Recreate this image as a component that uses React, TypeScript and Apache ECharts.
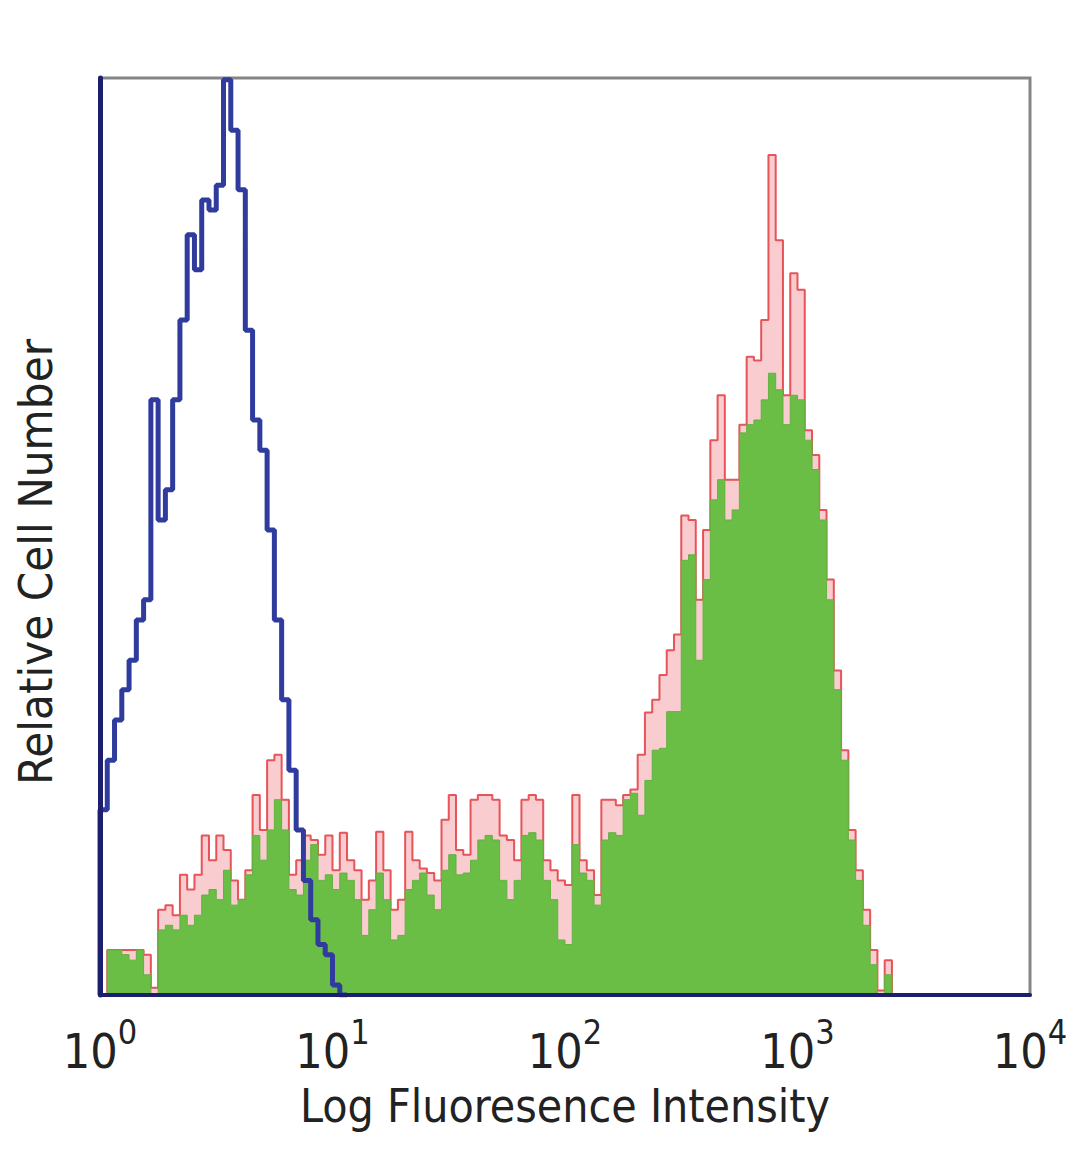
import React, { useEffect, useRef } from "react";
import * as echarts from "echarts";

// Histogram bins: 32 channels per decade, starting at 10^0
const BINS_PER_DECADE = 32;
const xTickLabels = ["10^0", "10^1", "10^2", "10^3", "10^4"];

// Isotype control (blue outline), relative counts, % of full scale
const blueCounts = [
  20.2, 25.6, 30.0, 33.3, 36.5, 40.9, 43.1, 64.9, 51.8, 55.1,
  64.9, 73.6, 82.9, 79.1, 86.7, 85.6, 88.3, 99.8, 94.3, 87.8,
  72.5, 62.7, 59.4, 50.7, 40.9, 32.2, 24.5, 18.0, 12.5, 8.2,
  5.5, 4.4, 1.1, 0,
];

// Stained sample (green fill)
const greenCounts = [
  0, 4.9, 4.9, 4.4, 3.8, 4.9, 2.2, 0, 7.1, 7.6,
  7.1, 8.7, 7.6, 8.7, 10.9, 11.5, 10.4, 13.6, 9.8, 10.4,
  13.1, 17.4, 14.7, 18.0, 21.3, 18.0, 11.5, 10.9, 14.7, 16.4,
  12.5, 13.1, 11.5, 13.3, 12.5, 10.4, 6.5, 9.3, 13.3, 10.4,
  6.0, 6.5, 11.5, 12.5, 13.3, 10.9, 9.3, 13.6, 15.3, 13.1,
  13.3, 14.7, 16.9, 17.4, 16.9, 12.5, 10.4, 12.5, 17.4, 17.7,
  16.9, 12.5, 10.4, 6.0, 5.5, 16.4, 13.3, 12.5, 9.8, 16.9,
  17.7, 17.4, 21.3, 22.0, 19.6, 23.4, 26.7, 26.9, 30.9, 30.9,
  47.4, 48.0, 36.5, 45.3, 54.0, 56.2, 51.8, 52.9, 61.3, 62.2,
  62.7, 64.9, 67.8, 66.0, 62.2, 65.4, 64.9, 60.5, 57.3, 51.8,
  43.1, 33.3, 25.6, 16.9, 12.5, 7.6, 3.3, 0, 2.2, 0,
];

// Overlaid replicate (red outline)
const redCounts = [
  0, 4.9, 4.9, 4.9, 4.9, 4.9, 4.4, 0.8, 9.3, 9.8,
  8.7, 13.1, 11.5, 13.1, 17.4, 14.7, 17.4, 15.8, 12.5, 10.4,
  13.6, 21.8, 18.0, 25.6, 26.2, 21.3, 13.1, 14.7, 17.4, 16.9,
  15.3, 17.4, 13.6, 17.7, 14.7, 13.6, 10.4, 12.5, 17.8, 13.6,
  9.3, 10.4, 17.8, 14.7, 13.8, 13.3, 12.5, 19.1, 21.8, 15.8,
  15.3, 21.3, 21.8, 21.8, 21.3, 17.4, 16.9, 14.7, 21.3, 21.8,
  21.3, 14.7, 13.6, 12.5, 12.0, 21.8, 14.7, 13.6, 10.9, 21.3,
  21.3, 20.7, 21.8, 22.4, 26.2, 30.8, 32.2, 34.9, 37.6, 39.3,
  52.3, 51.8, 43.1, 50.7, 60.5, 65.4, 56.2, 56.2, 62.2, 69.6,
  69.2, 73.6, 91.6, 82.3, 65.4, 78.7, 76.9, 61.6, 58.9, 52.9,
  45.3, 35.4, 26.7, 18.0, 13.6, 9.3, 4.9, 0.5, 3.8, 0,
];

const FONT = "'DejaVu Sans Condensed', 'DejaVu Sans', sans-serif";

function binEdge(i: number): number {
  return Math.pow(10, i / BINS_PER_DECADE);
}

function toSteps(values: number[]): number[][] {
  const pts: number[][] = [[1, 0]];
  values.forEach((v, i) => pts.push([binEdge(i), v]));
  pts.push([binEdge(values.length), 0]);
  return pts;
}

export default function App() {
  const ref = useRef<HTMLDivElement>(null);

  useEffect(() => {
    if (!ref.current) return;
    const chart = echarts.init(ref.current, null, { renderer: "svg" });
    const option = {
      animation: false,
      backgroundColor: "#ffffff",
      grid: {
        left: 100,
        top: 78,
        right: 50,
        bottom: 174,
        show: true,
        borderColor: "#858585",
        borderWidth: 3,
        backgroundColor: "transparent",
      },
      xAxis: {
        type: "log",
        logBase: 10,
        min: 1,
        max: 10000,
        interval: 1,
        z: 5,
        name: "Log Fluoresence Intensity",
        nameLocation: "middle",
        nameGap: 88,
        nameTextStyle: { fontFamily: FONT, fontSize: 46, color: "#222" },
        axisLine: { show: true, lineStyle: { color: "#1c1f6e", width: 4 } },
        axisTick: { show: false },
        splitLine: { show: false },
        axisLabel: {
          show: true,
          margin: 20,
          showMinLabel: true,
          showMaxLabel: true,
          formatter: (v: number) => {
            const exp = Math.round(Math.log10(v));
            const lbl = xTickLabels[exp] || "10^" + exp;
            const [base, power] = lbl.split("^");
            return "{b|" + base + "}{s|" + power + "}";
          },
          rich: {
            b: { fontFamily: FONT, fontSize: 48, color: "#222", lineHeight: 60, verticalAlign: "bottom" },
            s: { fontFamily: FONT, fontSize: 34, color: "#222", lineHeight: 60, verticalAlign: "top" },
          },
        },
      },
      yAxis: {
        type: "value",
        min: 0,
        max: 100,
        z: 5,
        axisLine: { show: true, lineStyle: { color: "#1c1f6e", width: 5 } },
        axisTick: { show: false },
        axisLabel: { show: false },
        splitLine: { show: false },
      },
      graphic: [
        {
          type: "text",
          x: 35,
          y: 562,
          rotation: Math.PI / 2,
          style: {
            text: "Relative Cell Number",
            fontFamily: FONT,
            fontSize: 47,
            fill: "#222",
            align: "center",
            verticalAlign: "middle",
          },
        },
      ],
      series: [
        {
          name: "red",
          type: "line",
          step: "end",
          symbol: "none",
          data: toSteps(redCounts),
          lineStyle: { color: "#e23b3f", width: 2, opacity: 0.85 },
          areaStyle: { color: "rgba(238,110,120,0.5)" },
          z: 2,
        },
        {
          name: "green",
          type: "line",
          step: "end",
          symbol: "none",
          data: toSteps(greenCounts),
          lineStyle: { color: "#63b13f", width: 1 },
          areaStyle: { color: "#6abd45", opacity: 1 },
          z: 3,
        },
        {
          name: "blue",
          type: "line",
          step: "end",
          symbol: "none",
          data: toSteps(blueCounts),
          lineStyle: { color: "#2f3c9d", width: 5 },
          z: 4,
        },
      ],
    };
    chart.setOption(option);
    return () => chart.dispose();
  }, []);

  return (
    <div
      ref={ref}
      style={{ position: "fixed", left: 0, top: 0, width: 1080, height: 1169, background: "#fff" }}
    />
  );
}
